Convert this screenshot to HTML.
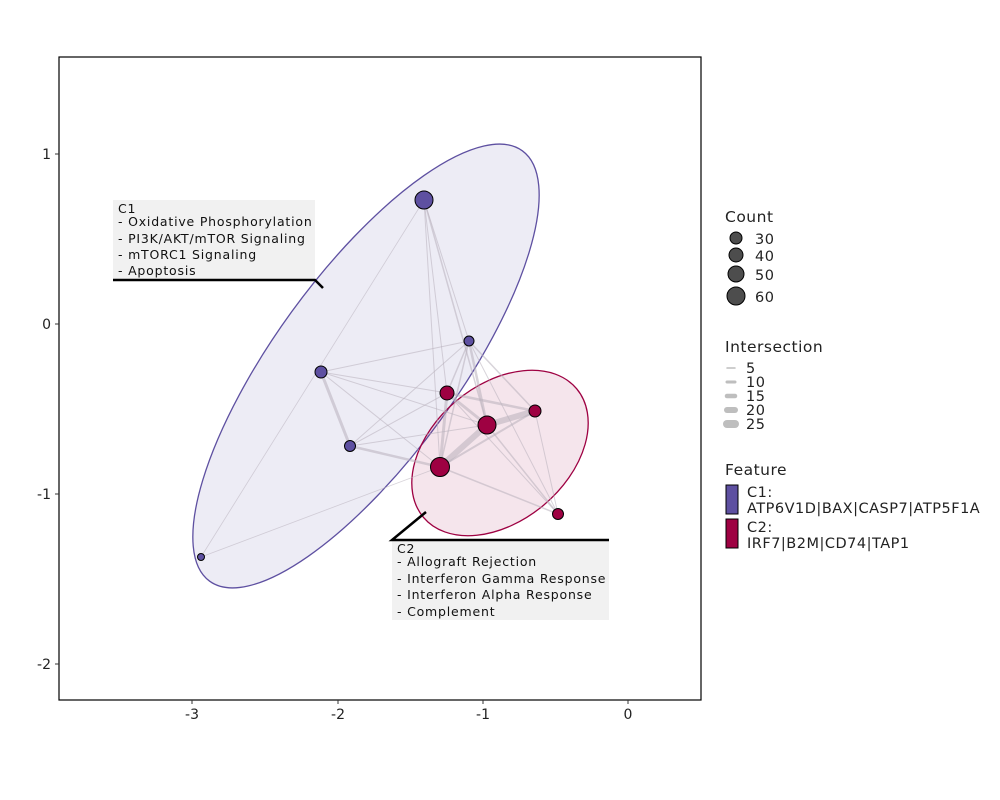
<!DOCTYPE html>
<html><head><meta charset="utf-8"><style>body{margin:0;background:#fff}svg{display:block}text{font-family:"DejaVu Sans","Liberation Sans",sans-serif}</style></head><body>
<svg width="1000" height="800" viewBox="0 0 1000 800" xmlns="http://www.w3.org/2000/svg">
<rect width="1000" height="800" fill="#fff"/>
<g>
<ellipse cx="366" cy="366" rx="266" ry="92" transform="rotate(-54 366 366)" fill="#5E50A1" fill-opacity="0.11" stroke="#5E50A1" stroke-width="1.3"/>
<ellipse cx="500" cy="453" rx="100" ry="68" transform="rotate(-40 500 453)" fill="#9E0142" fill-opacity="0.1" stroke="#9E0142" stroke-width="1.3"/>
</g>
<g stroke="#b8b0bc" stroke-opacity="0.55" stroke-linecap="round" fill="none">
<line x1="424" y1="200" x2="469" y2="341" stroke-width="1"/>
<line x1="424" y1="200" x2="447" y2="393" stroke-width="1"/>
<line x1="424" y1="200" x2="487" y2="425" stroke-width="1.5"/>
<line x1="424" y1="200" x2="440" y2="467" stroke-width="1"/>
<line x1="424" y1="200" x2="201" y2="557" stroke-width="0.8"/>
<line x1="469" y1="341" x2="321" y2="372" stroke-width="1"/>
<line x1="469" y1="341" x2="350" y2="446" stroke-width="1"/>
<line x1="469" y1="341" x2="447" y2="393" stroke-width="1.5"/>
<line x1="469" y1="341" x2="487" y2="425" stroke-width="2.5"/>
<line x1="469" y1="341" x2="440" y2="467" stroke-width="1.5"/>
<line x1="469" y1="341" x2="535" y2="411" stroke-width="1.5"/>
<line x1="469" y1="341" x2="558" y2="514" stroke-width="1"/>
<line x1="321" y1="372" x2="350" y2="446" stroke-width="3"/>
<line x1="321" y1="372" x2="447" y2="393" stroke-width="1"/>
<line x1="321" y1="372" x2="487" y2="425" stroke-width="1"/>
<line x1="321" y1="372" x2="440" y2="467" stroke-width="1"/>
<line x1="350" y1="446" x2="440" y2="467" stroke-width="2.5"/>
<line x1="350" y1="446" x2="487" y2="425" stroke-width="1"/>
<line x1="350" y1="446" x2="447" y2="393" stroke-width="1"/>
<line x1="201" y1="557" x2="440" y2="467" stroke-width="0.8"/>
<line x1="447" y1="393" x2="487" y2="425" stroke-width="3"/>
<line x1="447" y1="393" x2="535" y2="411" stroke-width="2.5"/>
<line x1="447" y1="393" x2="440" y2="467" stroke-width="3"/>
<line x1="447" y1="393" x2="558" y2="514" stroke-width="1"/>
<line x1="487" y1="425" x2="535" y2="411" stroke-width="6"/>
<line x1="487" y1="425" x2="440" y2="467" stroke-width="6"/>
<line x1="487" y1="425" x2="558" y2="514" stroke-width="1.5"/>
<line x1="535" y1="411" x2="440" y2="467" stroke-width="2"/>
<line x1="535" y1="411" x2="558" y2="514" stroke-width="1"/>
<line x1="440" y1="467" x2="558" y2="514" stroke-width="1.5"/>
</g>
<g stroke="#000" stroke-width="1">
<circle cx="424" cy="200" r="9" fill="#5E50A1"/>
<circle cx="469" cy="341" r="5" fill="#5E50A1"/>
<circle cx="321" cy="372" r="6" fill="#5E50A1"/>
<circle cx="350" cy="446" r="5.5" fill="#5E50A1"/>
<circle cx="201" cy="557" r="3.5" fill="#5E50A1"/>
<circle cx="447" cy="393" r="7" fill="#9E0142"/>
<circle cx="487" cy="425" r="9" fill="#9E0142"/>
<circle cx="535" cy="411" r="6" fill="#9E0142"/>
<circle cx="440" cy="467" r="9.5" fill="#9E0142"/>
<circle cx="558" cy="514" r="5.5" fill="#9E0142"/>
</g>
<rect x="113" y="200" width="202" height="80" fill="#f1f1f1"/>
<polyline points="113,280 315,280 323,288" fill="none" stroke="#000" stroke-width="2.5"/>
<g font-size="12.5" fill="#111" letter-spacing="0.8">
<text x="118" y="213">C1</text>
<text x="118" y="226">- Oxidative Phosphorylation</text>
<text x="118" y="243">- PI3K/AKT/mTOR Signaling</text>
<text x="118" y="259">- mTORC1 Signaling</text>
<text x="118" y="275">- Apoptosis</text>
</g>
<rect x="392" y="540" width="217" height="80" fill="#f1f1f1"/>
<polyline points="609,540 392,540 426,512" fill="none" stroke="#000" stroke-width="2.5"/>
<g font-size="12.5" fill="#111" letter-spacing="0.8">
<text x="397" y="553">C2</text>
<text x="397" y="566">- Allograft Rejection</text>
<text x="397" y="583">- Interferon Gamma Response</text>
<text x="397" y="599">- Interferon Alpha Response</text>
<text x="397" y="616">- Complement</text>
</g>
<rect x="59" y="57" width="642" height="643" fill="none" stroke="#000" stroke-width="1.2"/>
<g stroke="#333" stroke-width="1">
<line x1="192" y1="700" x2="192" y2="704"/><line x1="338" y1="700" x2="338" y2="704"/><line x1="483" y1="700" x2="483" y2="704"/><line x1="628" y1="700" x2="628" y2="704"/>
<line x1="55" y1="154" x2="59" y2="154"/><line x1="55" y1="324" x2="59" y2="324"/><line x1="55" y1="494" x2="59" y2="494"/><line x1="55" y1="664" x2="59" y2="664"/>
</g>
<g font-size="14" fill="#222" text-anchor="middle">
<text x="192" y="719">-3</text><text x="338" y="719">-2</text><text x="483" y="719">-1</text><text x="628" y="719">0</text>
</g>
<g font-size="14" fill="#222" text-anchor="end">
<text x="51" y="159">1</text><text x="51" y="329">0</text><text x="51" y="499">-1</text><text x="51" y="669">-2</text>
</g>
<g font-size="15.5" fill="#222" letter-spacing="0.5">
<text x="725" y="222">Count</text>
<text x="725" y="352">Intersection</text>
<text x="725" y="475">Feature</text>
</g>
<g fill="#4d4d4d" stroke="#000" stroke-width="1">
<circle cx="736" cy="238" r="6"/><circle cx="736" cy="255" r="7"/><circle cx="736" cy="274" r="8"/><circle cx="736" cy="296" r="9"/>
</g>
<g font-size="14.5" fill="#222" letter-spacing="0.5">
<text x="755" y="244">30</text><text x="755" y="261">40</text><text x="755" y="280">50</text><text x="755" y="302">60</text>
</g>
<g stroke="#bebebe" stroke-linecap="round">
<line x1="727" y1="368" x2="735" y2="368" stroke-width="1.5"/>
<line x1="727" y1="382" x2="735" y2="382" stroke-width="3"/>
<line x1="727" y1="396" x2="735" y2="396" stroke-width="4.5"/>
<line x1="727" y1="410" x2="735" y2="410" stroke-width="6"/>
<line x1="727" y1="424" x2="735" y2="424" stroke-width="8"/>
</g>
<g font-size="14.5" fill="#222" letter-spacing="0.5">
<text x="746" y="373">5</text><text x="746" y="387">10</text><text x="746" y="401">15</text><text x="746" y="415">20</text><text x="746" y="429">25</text>
</g>
<rect x="726" y="485" width="12" height="29" fill="#5E50A1" stroke="#000"/>
<rect x="726" y="519" width="12" height="29" fill="#9E0142" stroke="#000"/>
<g font-size="14.5" fill="#222" letter-spacing="0.5">
<text x="747" y="497">C1:</text><text x="747" y="513">ATP6V1D|BAX|CASP7|ATP5F1A</text>
<text x="747" y="532">C2:</text><text x="747" y="548">IRF7|B2M|CD74|TAP1</text>
</g>
</svg>
</body></html>
